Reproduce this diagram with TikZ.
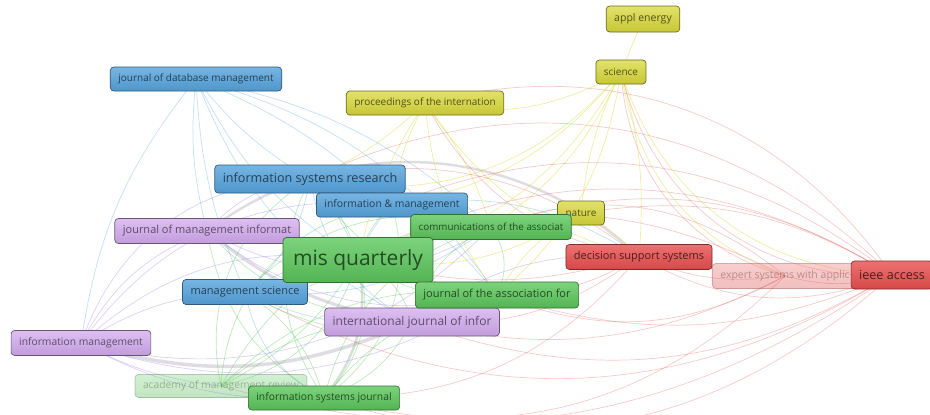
\documentclass[tikz,border=0pt]{standalone}
\usepackage{fontspec}
\setmainfont{Open Sans}
\usetikzlibrary{backgrounds}

\definecolor{jblue}{HTML}{55A3DC}
\definecolor{jgreen}{HTML}{5CC85C}
\definecolor{jpurple}{HTML}{D2AAEE}
\definecolor{jyellow}{HTML}{D8D83A}
\definecolor{jred}{HTML}{E84E4E}

\begin{document}
\begin{tikzpicture}
  [x=1pt,y=-1pt,
   jnl/.style={rounded corners=3.5pt,line width=.7pt,inner xsep=8pt,inner ysep=0pt,minimum height=24pt,font=\fontsize{10}{10}\selectfont},
   bluej/.style={jnl,top color=jblue!80!white,bottom color=jblue!92!black,draw=jblue!55!black,text=jblue!40!black},
   greenj/.style={jnl,top color=jgreen!80!white,bottom color=jgreen!90!black,draw=jgreen!55!black,text=jgreen!38!black},
   purplej/.style={jnl,top color=jpurple!75!white,bottom color=jpurple!92!black,draw=jpurple!50!black,text=jpurple!45!black},
   yellowj/.style={jnl,top color=jyellow!75!white,bottom color=jyellow!92!black,draw=jyellow!50!black,text=jyellow!38!black},
   redj/.style={jnl,top color=jred!80!white,bottom color=jred!92!black,draw=jred!55!black,text=jred!35!black},
   faded/.style={opacity=.35},
   bluel/.style={jblue,line width=.7pt,opacity=.35},
   greenl/.style={jgreen,line width=.7pt,opacity=.4},
   purplel/.style={jpurple!80!blue,line width=.7pt,opacity=.4},
   yellowl/.style={jyellow,line width=.7pt,opacity=.45},
   redl/.style={jred,line width=.7pt,opacity=.3},
   thickl/.style={gray!70!jpurple,line width=3.5pt,opacity=.3}]
  \useasboundingbox (0,0) rectangle (930,415);

  % yellow cluster
  \node[yellowj,minimum height=26pt,font=\fontsize{10.5}{10}\selectfont] (appl) at (643,19) {appl energy};
  \node[yellowj] (sci) at (621,72) {science};
  \node[yellowj] (proc) at (425,103) {proceedings of the internation};
  \node[yellowj] (nat) at (581,213) {nature};

  % blue cluster
  \node[bluej] (jdm) at (196,79) {journal of database management};
  \node[bluej,minimum height=28pt,font=\fontsize{12.6}{12}\selectfont] (isr) at (310,179) {information systems research};
  \node[bluej,font=\fontsize{10.4}{10}\selectfont] (iam) at (392,205) {information \& management};
  \node[bluej,minimum height=25pt,font=\fontsize{11}{10}\selectfont] (ms) at (245,292) {management science};

  % purple cluster
  \node[purplej,minimum height=25pt,font=\fontsize{11}{10}\selectfont] (jmis) at (207,231) {journal of management informat};
  \node[purplej,minimum height=28pt,font=\fontsize{12}{12}\selectfont] (ijim) at (412,322) {international journal of infor};
  \node[purplej,minimum height=25pt,font=\fontsize{10.3}{10}\selectfont] (im) at (81,343) {information management};

  % green cluster
  \node[greenj,minimum height=25pt,font=\fontsize{9.8}{10}\selectfont] (cais) at (491,227) {communications of the associat};
  \node[greenj,minimum height=45pt,inner xsep=10pt,font=\fontsize{21}{20}\selectfont] (misq) at (358,260) {mis quarterly};
  \node[greenj,minimum height=26pt,font=\fontsize{11}{10}\selectfont] (jais) at (497,295) {journal of the association for};
  \node[greenj,faded,minimum height=23pt,font=\fontsize{10.3}{10}\selectfont] (amr) at (221,386) {academy of management review};
  \node[greenj,font=\fontsize{10.3}{10}\selectfont] (isj) at (324,398) {information systems journal};

  % red cluster
  \node[redj,minimum height=25pt,font=\fontsize{11}{10}\selectfont] (dss) at (639,257) {decision support systems};
  \node[redj,faded,minimum height=25pt,font=\fontsize{10.5}{10}\selectfont] (esa) at (785,276) {expert systems with applic};
  \node[redj,minimum height=28pt,font=\fontsize{12.6}{12}\selectfont] (ieee) at (892,275) {ieee access};

  \begin{pgfonlayer}{background}
    % links
    \draw[thickl] (im.center) to[bend right=20] (ijim.center);
    \draw[thickl,line width=2.5pt] (jmis.center) to[bend left=40] (dss.center);
    \draw[thickl,line width=3pt] (jmis.center) to[bend right=15] (ijim.center);
    \draw[thickl,line width=2.5pt,gray!60!jgreen] (misq.center) to[bend left=25] (isj.center);
    \foreach \a/\b/\k in {misq/isj/30,misq/cais/20,misq/jais/-20,misq/amr/30,isj/jais/20,isj/cais/30,amr/jais/25,amr/cais/30,isj/ijim/-20,misq/isr/-15,cais/jais/30,amr/misq/-15,isj/isr/30,amr/isr/35,cais/iam/20,jais/isr/25,misq/iam/15,misq/ms/20,isj/ms/-20,jais/ijim/15,amr/ijim/20,isj/jmis/25,cais/ms/-30,jais/ms/30,isj/iam/-35,amr/iam/40,cais/ijim/-25,jais/jmis/35,misq/ijim/25}
      \draw[greenl] (\a.center) to[bend left=\k] (\b.center);
    \foreach \a/\b/\k in {jdm/isr/-10,jdm/misq/-15,jdm/ms/-10,jdm/iam/10,jdm/ijim/-20,jdm/jmis/-10,isr/ms/20,isr/misq/10,ms/misq/15,ms/ijim/-15,iam/misq/-10,isr/iam/-20,jdm/cais/15,ms/isj/-25,iam/dss/20,isr/jais/20,jdm/jais/20,isr/ijim/-25,jdm/im/-15,ms/cais/-20}
      \draw[bluel] (\a.center) to[bend left=\k] (\b.center);
    \foreach \a/\b/\k in {im/jmis/20,im/misq/25,im/ms/15,im/isr/35,im/isj/-15,im/cais/-30,jmis/misq/10,ijim/dss/20,im/jais/-25,jmis/isr/20,im/iam/30,ijim/jais/-20,jmis/jais/-25,im/amr/-10,jmis/cais/-30}
      \draw[purplel] (\a.center) to[bend left=\k] (\b.center);
    \foreach \a/\b/\k in {sci/appl/0,sci/proc/20,sci/nat/-10,sci/misq/25,sci/dss/10,sci/cais/15,proc/misq/-10,proc/isr/10,proc/dss/-20,proc/cais/10,nat/dss/10,sci/jais/20,sci/isr/30,proc/jais/-15,sci/ieee/-35,sci/esa/-30,sci/iam/20,proc/iam/-10,nat/misq/20,nat/jais/-15}
      \draw[yellowl] (\a.center) to[bend left=\k] (\b.center);
    \foreach \a/\b/\k in {dss/ieee/-25,dss/esa/-15,ieee/esa/15,ieee/misq/-30,ieee/isr/-35,ieee/ijim/25,ieee/jais/20,ieee/isj/30,ieee/cais/-25,ieee/proc/-35,dss/misq/15,dss/jais/15,dss/isr/-25,esa/misq/-25,esa/ijim/20,ieee/nat/-20,esa/isj/30,ieee/ms/30,dss/isj/25,esa/jais/25,dss/ijim/20,ieee/iam/-30,dss/proc/25,ieee/sci/40,esa/sci/35,esa/cais/-30,ieee/amr/25}
      \draw[redl] (\a.center) to[bend left=\k] (\b.center);
  \end{pgfonlayer}
\end{tikzpicture}
\end{document}
